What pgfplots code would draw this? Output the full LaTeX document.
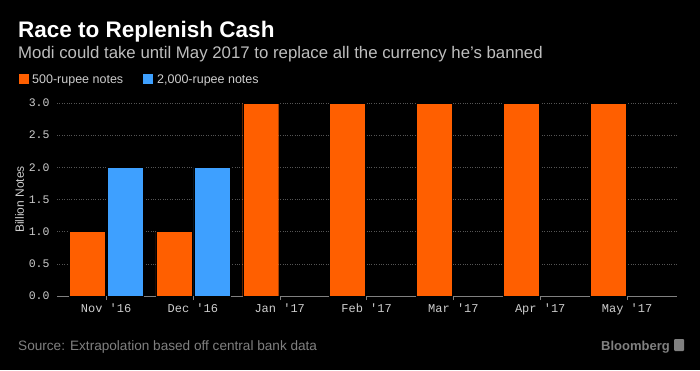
\documentclass[border=0pt]{standalone}
\usepackage{pgfplots}
\pgfplotsset{compat=1.18}
\usepackage{fontspec}
\setmainfont{Liberation Sans}
\newfontfamily\monofont{Liberation Mono}
\definecolor{bborange}{RGB}{255,95,0}
\definecolor{bbblue}{RGB}{62,160,255}
\definecolor{subgrey}{RGB}{190,190,190}
\definecolor{tickgrey}{RGB}{205,205,205}
\definecolor{srcgrey}{RGB}{128,128,128}
\definecolor{gridgrey}{RGB}{85,85,85}
\begin{document}
\begin{tikzpicture}[x=1pt,y=1pt]
\fill[black] (0,0) rectangle (700,370);
\node[anchor=base west,inner sep=0pt,text=white,font=\fontsize{22.5}{26}\selectfont\bfseries] at (18,332) {Race to Replenish Cash};
\node[anchor=base west,inner sep=0pt,text=subgrey,font=\fontsize{16.8}{20}\selectfont] at (18,311) {Modi could take until May 2017 to replace all the currency he's banned};
\fill[bborange] (19,286) rectangle (29,296);
\node[anchor=base west,inner sep=0pt,text=tickgrey,font=\fontsize{12.5}{14}\selectfont] at (32,286) {500-rupee notes};
\fill[bbblue] (143,286) rectangle (153,296);
\node[anchor=base west,inner sep=0pt,text=tickgrey,font=\fontsize{12.5}{14}\selectfont] at (157,286) {2,000-rupee notes};
\begin{axis}[
  at={(57pt,74pt)}, anchor=south west,
  width=620pt, height=193pt, scale only axis,
  xmin=-0.565, xmax=6.575, ymin=0, ymax=3,
  ybar=2pt, bar width=36pt,
  xtick={0,1,2,3,4,5,6},
  xticklabels={Nov '16,Dec '16,Jan '17,Feb '17,Mar '17,Apr '17,May '17},
  ytick={0,0.5,1,1.5,2,2.5,3},
  yticklabel style={/pgf/number format/.cd,fixed,fixed zerofill,precision=1},
  /pgf/number format/assume math mode=true,
  tick label style={text=tickgrey,font=\monofont\fontsize{11.5}{13}\selectfont},
  xticklabel style={font=\monofont\fontsize{12}{14}\selectfont},
  axis x line*=bottom, axis y line*=left,
  x axis line style={draw=gray,-},
  y axis line style={draw=none},
  xtick style={draw=gray},
  ytick style={draw=none},
  major tick length=4pt,
  tick align=outside,
  ymajorgrids, grid style={gridgrey,dotted},
  ylabel={Billion Notes},
  ylabel style={text=tickgrey,font=\fontsize{12}{14}\selectfont,yshift=-2pt},
  clip=false,
]
\addplot[fill=bborange,draw=black,line width=0.4pt] coordinates {(0,1) (1,1) (2,3) (3,3) (4,3) (5,3) (6,3)};
\addplot[fill=bbblue,draw=black,line width=0.4pt] coordinates {(0,2) (1,2)};
\end{axis}
\node[anchor=base west,inner sep=0pt,text=srcgrey,font=\fontsize{13.6}{16}\selectfont] at (18,20) {Source: Extrapolation based off central bank data};
\node[anchor=base east,inner sep=0pt,text=srcgrey,font=\fontsize{13}{15}\selectfont\bfseries] at (670,20) {Bloomberg};
\fill[srcgrey,rounded corners=1pt] (674,19) rectangle (684,31);
\end{tikzpicture}
\end{document}
